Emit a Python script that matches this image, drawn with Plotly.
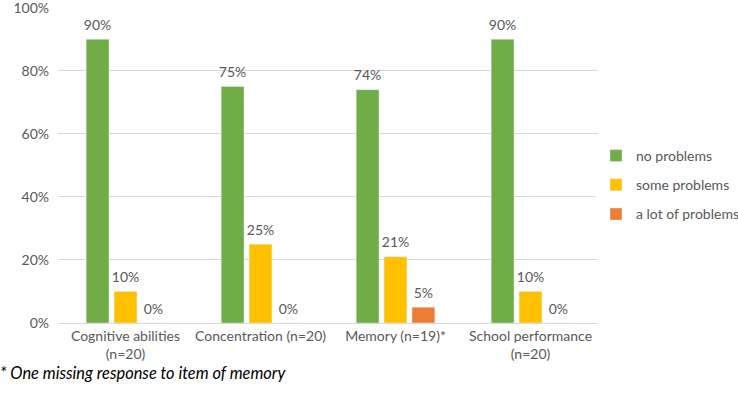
import plotly.graph_objects as go

categories = ["Cognitive abilities<br>(n=20)", "Concentration (n=20)", "Memory (n=19)*", "School performance<br>(n=20)"]
no_problems = [90, 75, 74, 90]
some_problems = [10, 25, 21, 10]
lot_problems = [0, 0, 5, 0]
series_names = ["no problems", "some problems", "a lot of problems"]
colors = ["#70AD47", "#FFC000", "#ED7D31"]
tick_vals = [0, 20, 40, 60, 80, 100]
tick_text = ["0%", "20%", "40%", "60%", "80%", "100%"]
footnote = "* One missing response to item of memory"

FONT = "Lato"
TXT = "#595959"
FS = 14
GAP = 0.38

fig = go.Figure()
for i, (name, vals, col) in enumerate(zip(series_names, [no_problems, some_problems, lot_problems], colors)):
    fig.add_trace(go.Bar(
        x=categories, y=vals, name=name, marker_color=col,
        offsetgroup=f"g{i}", alignmentgroup="a", legendgroup=f"g{i}",
    ))
for i, (name, vals) in enumerate(zip(series_names, [no_problems, some_problems, lot_problems])):
    fig.add_trace(go.Scatter(
        x=categories, y=vals, mode="markers+text", showlegend=False,
        marker=dict(size=8, opacity=0), hoverinfo="skip",
        text=[f"{v}%" for v in vals], textposition="top center",
        textfont=dict(family=FONT, size=FS, color=TXT),
        offsetgroup=f"g{i}", alignmentgroup="a", cliponaxis=False,
    ))

fig.update_layout(
    width=738, height=403,
    margin=dict(l=58, r=140, t=7, b=80, autoexpand=False),
    paper_bgcolor="white", plot_bgcolor="white",
    barmode="group", bargap=GAP, bargroupgap=0.18,
    scattermode="group", scattergap=GAP,
    font=dict(family=FONT, size=FS, color=TXT),
    showlegend=True,
    legend=dict(xref="container", yref="container", x=596/738, y=218/403,
                yanchor="middle", xanchor="left",
                font=dict(family=FONT, size=FS, color=TXT),
                tracegroupgap=8, itemwidth=30),
    yaxis=dict(range=[0, 100.2], tickvals=tick_vals, ticktext=tick_text,
               showgrid=True, gridcolor="#D9D9D9", gridwidth=1,
               zeroline=False, showline=False, ticks="", ticklabelstandoff=8,
               automargin=False, ticklabeloverflow="allow",
               tickfont=dict(family=FONT, size=FS, color=TXT)),
    xaxis=dict(showline=True, linecolor="#D9D9D9", linewidth=1, ticks="",
               automargin=False, tickangle=0,
               tickfont=dict(family=FONT, size=FS, color=TXT)),
)
fig.add_annotation(text=f"<i>{footnote}</i>", xref="paper", yref="paper",
                   x=-60/540, y=-49/316, xanchor="left", yanchor="middle",
                   showarrow=False, font=dict(family=FONT, size=16.4, color="black"))

fig.write_html("out.html", config={"displayModeBar": False},
               post_script="document.body.style.margin='0';")
